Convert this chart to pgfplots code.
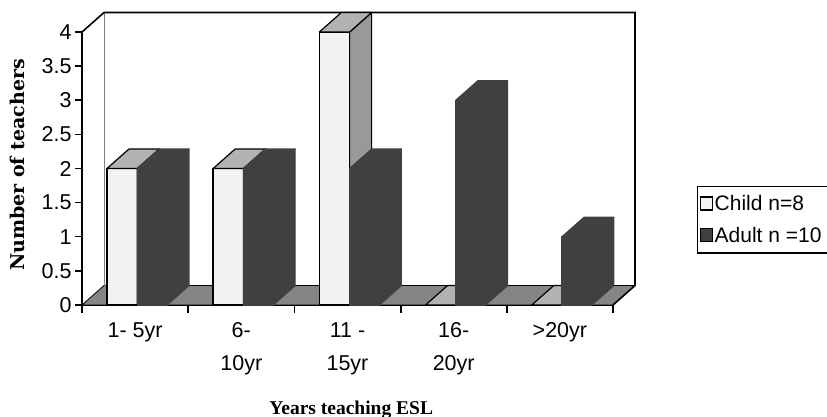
\documentclass[border=0pt]{standalone}
\usepackage{fontspec}
\setmainfont{Liberation Sans}
\newfontfamily\xtfont{Liberation Serif}
\newfontfamily\ytfont{DejaVu Serif}
\usepackage{pgfplots}
\usepackage{pgfplotstable}
\pgfplotsset{compat=1.18}

% values
\pgfplotstableread{
x v
0 2
1 2
2 4
3 0
4 0
}\childtab
\pgfplotstableread{
x v
0 2
1 2
2 2
3 3
4 1
}\adulttab

\def\DX{0.207}\def\DY{0.285}
\definecolor{childfront}{gray}{0.95}
\definecolor{childtop}{gray}{0.70}
\definecolor{childside}{gray}{0.60}
\definecolor{adultc}{gray}{0.25}
\definecolor{floorc}{gray}{0.52}

% top and side faces of the 3-D columns, from the table values
\newcommand\facesof[6]{%
 \pgfplotsinvokeforeach{0,...,4}{%
  \pgfplotstablegetelem{##1}{v}\of#1%
  \pgfmathsetmacro\va{\pgfplotsretval}%
  \pgfmathsetmacro\vb{\va+\DY}%
  \pgfmathsetmacro\xa{##1+#2}%
  \pgfmathsetmacro\xb{##1+#3}%
  \pgfmathsetmacro\xc{\xa+\DX}%
  \pgfmathsetmacro\xd{\xb+\DX}%
  \edef\doit{%
   \noexpand\addplot[fill=#5,draw=#6,line width=1.2pt,line join=round,forget plot] coordinates {(\xb,0) (\xd,\DY) (\xd,\vb) (\xb,\va)} -- cycle;
   \noexpand\addplot[fill=#4,draw=#6,line width=1.2pt,line join=round,forget plot] coordinates {(\xa,\va) (\xb,\va) (\xd,\vb) (\xc,\vb)} -- cycle;
  }\doit
 }}

\newcommand\ticfont{\fontsize{21.5}{33}\selectfont}

\begin{document}
\begin{tikzpicture}
\useasboundingbox (0,0) rectangle (827pt,417pt);
\clip (0,0) rectangle (827pt,417pt);
\begin{axis}[
 at={(82pt,112pt)}, anchor=south west,
 scale only axis, width=531pt, height=273pt,
 xmin=0, xmax=5, ymin=0, ymax=4,
 clip=false,
 axis x line*=bottom, axis y line*=left,
 axis line style={line width=1.8pt, -},
 xtick={0.5,1.5,2.5,3.5,4.5},
 xticklabels={{1- 5yr},{6-\\10yr},{11 -\\15yr},{16-\\20yr},{>20yr}},
 minor xtick={0,1,2,3,4,5},
 major x tick style={draw=none},
 minor x tick style={line width=1.8pt, black},
 minor tick length=8pt,
 ytick={0,0.5,1,1.5,2,2.5,3,3.5,4},
 major y tick style={line width=1.5pt, black},
 major tick length=7pt,
 tick align=outside,
 /pgf/number format/assume math mode=true,
 yticklabel style={font=\ticfont, anchor=east},
 xticklabel style={font=\ticfont, align=center, anchor=north, yshift=-7pt},
 every axis y label/.style={at={(axis description cs:-0.109,0.513)}, rotate=90, anchor=base},
 ylabel={\ytfont\bfseries\fontsize{19}{21}\selectfont Number of teachers},
 every axis x label/.style={at={(axis description cs:0.507,-0.40)}, anchor=base},
 xlabel={\xtfont\bfseries\fontsize{19.5}{21}\selectfont Years teaching ESL},
 legend style={at={(axis description cs:1.158,0.436)}, anchor=north west,
   draw=black, line width=1.2pt, font=\fontsize{21}{25}\selectfont,
   inner xsep=2pt, inner ysep=7pt, row sep=11pt},
 legend cell align=left,
]
% floor and back wall
\addplot[fill=floorc, draw=black, line width=0.8pt, forget plot] coordinates {(0,0) (5,0) (5.207,0.285) (0.207,0.285)} -- cycle;
\addplot[draw=gray, line width=0.7pt, forget plot] coordinates {(0.207,0.285) (0.207,4.285)};
\addplot[draw=black, line width=1.6pt, forget plot] coordinates {(0,4) (0.207,4.285) (5.207,4.285) (5.207,0.285) (5,0)};
% Child columns
\addplot[ybar, bar width=0.285, bar shift=0pt, fill=childfront, draw=black, line width=1.4pt,
  legend image code/.code={\draw[fill=childfront,draw=black,line width=1.2pt] (0pt,-6pt) rectangle (12pt,7pt);}]
  table[x expr=\thisrow{x}+0.3775, y=v]{\childtab};
\facesof{\childtab}{0.235}{0.52}{childtop}{childside}{black}
% Adult columns
\addplot[ybar, bar width=0.28, bar shift=0pt, fill=adultc, draw=adultc, line width=1.2pt,
  legend image code/.code={\draw[fill=adultc,draw=black,line width=1.2pt] (0pt,-6pt) rectangle (12pt,7pt);}]
  table[x expr=\thisrow{x}+0.66, y=v]{\adulttab};
\facesof{\adulttab}{0.52}{0.80}{adultc}{adultc}{adultc}
\legend{Child n=8, Adult n =10\rule{30pt}{0pt}}
\end{axis}
\end{tikzpicture}
\end{document}
